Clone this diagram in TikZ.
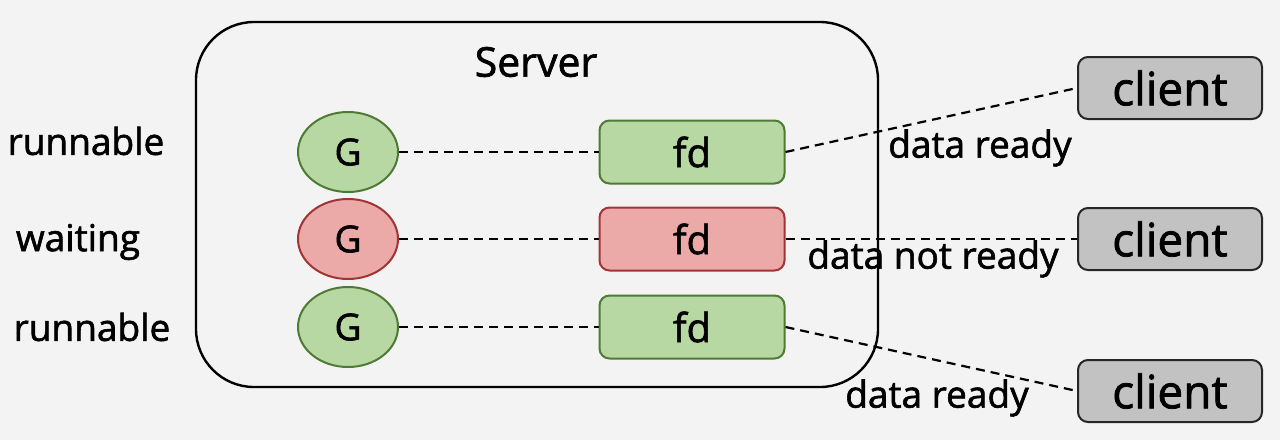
\documentclass[tikz,border=0pt]{standalone}
\usepackage{fontspec}
\setmainfont{Open Sans}[BoldFont={Open Sans},BoldFeatures={FakeBold=1.6}]
\usetikzlibrary{positioning,shapes.geometric}

\definecolor{bggray}{HTML}{F3F3F3}
\definecolor{okfill}{HTML}{B7D7A3}
\definecolor{okline}{HTML}{4E7A33}
\definecolor{waitfill}{HTML}{EBA9A7}
\definecolor{waitline}{HTML}{A23434}
\definecolor{clfill}{HTML}{C2C2C2}

\tikzset{
  lbl/.style={font=\fontsize{37}{40}\selectfont\bfseries},
  runok/.style={fill=okfill,draw=okline},
  runwait/.style={fill=waitfill,draw=waitline},
  gnode/.style={ellipse,line width=2pt,minimum width=100pt,minimum height=80pt,
    inner sep=0pt,font=\fontsize{37}{40}\selectfont\bfseries},
  fdbox/.style={rectangle,rounded corners=10pt,line width=2pt,minimum width=185pt,
    minimum height=63pt,inner sep=0pt,font=\fontsize{40}{44}\selectfont\bfseries},
  clbox/.style={rectangle,rounded corners=10pt,line width=2pt,fill=clfill,draw=black!85,
    minimum width=184pt,minimum height=62pt,inner sep=0pt,font=\fontsize{46}{50}\selectfont\bfseries},
  dashline/.style={line width=2.2pt,dash pattern=on 9pt off 6pt}
}

\begin{document}
\begin{tikzpicture}[x=1pt,y=-1pt]
  \fill[bggray] (0,0) rectangle (1280,440);
  \useasboundingbox (0,0) rectangle (1280,440);

  % Server frame
  \draw[line width=2.4pt,rounded corners=58pt] (196,22) rectangle (878,387);
  \node[font=\fontsize{41}{44}\selectfont\bfseries] (srv) at (536,62) {Server};

  % goroutines and their fds
  \foreach \i/\y/\st in {1/152/runok,2/239/runwait,3/327/runok} {
    \node[gnode,\st] (g\i) at (348,\y) {G};
    \node[fdbox,\st] (fd\i) at (692,\y) {fd};
    \draw[dashline] (g\i) -- (fd\i);
  }

  % states
  \node[lbl] (st1) at (86,141) {runnable};
  \node[lbl] (st2) at (78,242) {waiting};
  \node[lbl] (st3) at (92,327) {runnable};

  % clients
  \foreach \i/\y in {1/88,2/239,3/391} {
    \node[clbox] (cl\i) at (1170,\y) {client};
    \draw[dashline] (fd\i.east) -- (cl\i.west);
  }

  \node[lbl] (dr1) at (980,148) {data ready};
  \node[lbl] (dr2) at (933,259) {data not ready};
  \node[lbl] (dr3) at (937,398) {data ready};
\end{tikzpicture}
\end{document}
